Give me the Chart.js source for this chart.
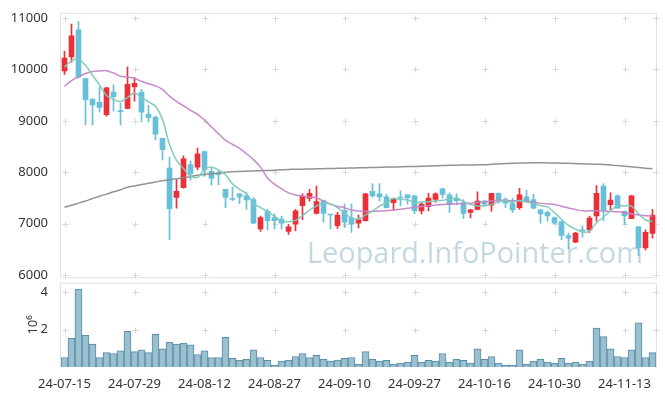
<!DOCTYPE html>
<html lang="ko">
<head>
  <meta charset="UTF-8">
  <title>Candlestick</title>
  <style>
    body { margin: 0; background: #fff; }
    #wrap { position: relative; width: 665px; height: 396px; }
    .box { position: absolute; left: 0; width: 665px; }
    #volBox { top: 270px; height: 126px; }
    #priceBox { top: 0; height: 290px; }
  </style>
  <script src="https://cdn.jsdelivr.net/npm/chart.js"></script>
</head>
<body>
<div id="wrap">
  <div class="box" id="volBox"><canvas id="volChart"></canvas></div>
  <div class="box" id="priceBox"><canvas id="priceChart"></canvas></div>
</div>
<script>
// trading days (YY-MM-DD)
const dates = [
  '24-07-15','24-07-16','24-07-17','24-07-18','24-07-19','24-07-22','24-07-23','24-07-24','24-07-25','24-07-26',
  '24-07-29','24-07-30','24-07-31','24-08-01','24-08-02','24-08-05','24-08-06','24-08-07','24-08-08','24-08-09',
  '24-08-12','24-08-13','24-08-14','24-08-16','24-08-19','24-08-20','24-08-21','24-08-22','24-08-23','24-08-26',
  '24-08-27','24-08-28','24-08-29','24-08-30','24-09-02','24-09-03','24-09-04','24-09-05','24-09-06','24-09-09',
  '24-09-10','24-09-11','24-09-12','24-09-13','24-09-19','24-09-20','24-09-23','24-09-24','24-09-25','24-09-26',
  '24-09-27','24-09-30','24-10-02','24-10-04','24-10-07','24-10-08','24-10-10','24-10-11','24-10-14','24-10-15',
  '24-10-16','24-10-17','24-10-18','24-10-21','24-10-22','24-10-23','24-10-24','24-10-25','24-10-28','24-10-29',
  '24-10-30','24-10-31','24-11-01','24-11-04','24-11-05','24-11-06','24-11-07','24-11-08','24-11-11','24-11-12',
  '24-11-13','24-11-14','24-11-15','24-11-18','24-11-19'
];

const opens = [
  9970,10240,10770,9820,9420,9360,9120,9560,9190,9240,
  9660,9560,9130,9070,8660,8080,7510,7700,8150,8100,
  8400,8020,7990,7670,7480,7580,7540,7470,6900,7240,
  7120,7090,6850,6990,7350,7490,7200,7450,7180,6960,
  7260,7120,7010,7060,7630,7580,7520,7410,7510,7560,
  7540,7250,7330,7470,7680,7560,7500,7410,7220,7280,
  7440,7360,7590,7470,7390,7310,7520,7470,7270,7220,
  7120,7040,6770,6640,6870,6880,7150,7730,7370,7540,
  7240,7100,6940,6530,6810
];
const highs = [
  10350,10880,10930,9820,9430,9650,9650,9700,9340,10050,
  9840,9610,9300,9090,8660,8290,7860,8320,8220,8470,
  8410,8080,8030,7670,7710,7590,7600,7510,7150,7280,
  7190,7150,6990,7280,7580,7670,7730,7460,7180,7220,
  7380,7380,7170,7590,7780,7780,7570,7500,7640,7560,
  7550,7410,7590,7600,7690,7600,7580,7470,7280,7620,
  7460,7590,7600,7510,7500,7690,7650,7570,7270,7250,
  7130,7050,6820,6830,6960,7150,7740,7780,7600,7560,
  7250,7550,6950,6880,7280
];
const lows = [
  9900,10140,9830,8920,8920,9170,9090,9190,8920,9230,
  9380,8980,8980,8630,8240,6690,7300,7690,7840,8050,
  7920,7750,7760,7310,7450,7390,7280,7000,6850,6880,
  6900,6900,6790,6860,7080,7440,7190,7030,6900,6910,
  6930,6830,6920,7050,7510,7440,7300,7260,7350,7380,
  7190,7190,7250,7420,7500,7220,7370,7100,7110,7270,
  7340,7240,7400,7310,7220,7280,7440,7290,7010,7050,
  7000,6690,6510,6630,6740,6830,7050,7060,7260,7300,
  6980,7100,6380,6490,6720
];
const closes = [
  10220,10650,9850,9410,9310,9260,9640,9470,9180,9710,
  9730,9170,9060,8740,8440,7290,7630,8260,7970,8360,
  8050,7880,7960,7510,7470,7520,7460,7010,7120,7060,
  7060,7010,6940,7250,7530,7590,7430,7200,7170,7170,
  7030,6990,7080,7580,7540,7520,7310,7490,7500,7500,
  7250,7380,7500,7580,7570,7370,7450,7200,7270,7440,
  7380,7590,7440,7400,7270,7560,7440,7300,7190,7150,
  7010,6770,6720,6820,6860,7110,7590,7250,7460,7300,
  7150,7540,6530,6830,7170
];
// moving averages
const ma5 = [
  10040,10170,10190,10080,9888,9696,9494,9418,9372,9452,
  9546,9452,9370,9282,9028,8540,8232,8072,7918,7902,
  8054,8104,8044,7952,7774,7668,7584,7394,7316,7234,
  7142,7052,7038,7064,7158,7264,7348,7400,7384,7312,
  7200,7112,7088,7170,7244,7342,7406,7488,7472,7464,
  7410,7424,7426,7442,7456,7480,7494,7434,7372,7346,
  7348,7376,7424,7450,7416,7452,7422,7394,7352,7328,
  7218,7084,6968,6894,6836,6856,7020,7126,7254,7342,
  7350,7340,7196,7072,7046
];
const ma20 = [
  9670,9780,9860,9920,9960,9970,9975,9930,9865,9850,
  9827,9765,9720,9680,9610,9480,9378,9290,9205,9125,
  9015,8880,8750,8620,8540,8465,8360,8245,8100,7890,
  7770,7680,7600,7560,7538,7520,7506,7440,7380,7335,
  7310,7265,7245,7237,7240,7245,7250,7265,7280,7300,
  7320,7335,7350,7365,7375,7380,7385,7390,7398,7410,
  7425,7440,7455,7450,7445,7442,7430,7415,7400,7385,
  7375,7340,7305,7275,7250,7250,7250,7245,7238,7230,
  7215,7190,7170,7155,7150
];
const ma120 = [
  7320,7360,7400,7440,7490,7535,7575,7620,7660,7710,
  7735,7760,7785,7810,7835,7855,7875,7895,7915,7940,
  7955,7970,7985,8000,8010,8015,8020,8025,8030,8035,
  8040,8050,8055,8058,8060,8063,8066,8070,8073,8076,
  8080,8083,8086,8090,8093,8096,8100,8103,8106,8110,
  8113,8116,8120,8125,8130,8135,8138,8140,8142,8145,
  8148,8155,8162,8168,8174,8180,8182,8183,8183,8182,
  8180,8177,8173,8168,8164,8160,8155,8150,8142,8130,
  8118,8105,8092,8078,8068
];
const volumes = [
  510000,1540000,4170000,1690000,1230000,510000,770000,720000,870000,1900000,
  820000,920000,770000,1740000,970000,1330000,1230000,1280000,1180000,670000,
  870000,510000,510000,1590000,460000,360000,410000,920000,510000,360000,
  100000,310000,360000,560000,720000,510000,620000,410000,310000,370000,
  460000,510000,150000,820000,410000,310000,360000,150000,210000,260000,
  620000,260000,360000,310000,720000,260000,410000,360000,210000,970000,
  410000,560000,210000,100000,100000,920000,150000,310000,410000,260000,
  210000,460000,210000,260000,150000,310000,2080000,1620000,970000,560000,
  510000,920000,2360000,510000,770000
];

const priceTicks = [6000, 7000, 8000, 9000, 10000, 11000];
const volTicks = [2000000, 4000000];
const tickEvery = 10;

const UP = 'rgb(234,48,54)';
const DOWN = 'rgb(104,191,217)';
const FONT = { family: "'Noto Sans', sans-serif", size: 13 };
const TEXT = '#333';

const candleColors = opens.map((o, i) => closes[i] >= o ? UP : DOWN);
const xTickIdx = dates.map((d, i) => i).filter(i => i % tickEvery === 0);

// light frame + little "+" marks where grid lines would cross
const gridMarks = {
  id: 'gridMarks',
  beforeDatasetsDraw(chart, args, opts) {
    const { ctx, chartArea: a, scales } = chart;
    const xs = xTickIdx.map(i => scales.x.getPixelForValue(i));
    xs.push(a.right);
    const ys = opts.values.map(v => scales.y.getPixelForValue(v));
    ctx.save();
    ctx.strokeStyle = '#e2e2e2';
    ctx.lineWidth = 1;
    ctx.beginPath();
    ctx.moveTo(a.left - 0.5, a.bottom + (opts.bottom ? 0.5 : 0));
    ctx.lineTo(a.left - 0.5, a.top + 0.5);
    ctx.lineTo(a.right + 0.5, a.top + 0.5);
    ctx.lineTo(a.right + 0.5, a.bottom + 0.5);
    if (opts.bottom) ctx.lineTo(a.left - 0.5, a.bottom + 0.5);
    ctx.stroke();
    ctx.strokeStyle = '#d8d8d8';
    ctx.beginPath();
    xs.forEach(x => {
      x = Math.round(x) + 0.5;
      ys.forEach(y => {
        y = Math.round(y) + 0.5;
        ctx.moveTo(x - 3, y); ctx.lineTo(x + 3, y);
        ctx.moveTo(x, y - 3); ctx.lineTo(x, y + 3);
      });
    });
    ctx.stroke();
    ctx.restore();
  }
};

const watermark = {
  id: 'watermark',
  beforeDatasetsDraw(chart) {
    const { ctx } = chart;
    const text = 'Leopard.InfoPointer.com';
    ctx.save();
    ctx.font = "32px 'Open Sans', sans-serif";
    const size = 32 * 336 / ctx.measureText(text).width;
    ctx.font = size.toFixed(1) + "px 'Open Sans', sans-serif";
    ctx.fillStyle = 'rgba(160,192,212,0.62)';
    ctx.textAlign = 'right';
    ctx.textBaseline = 'alphabetic';
    ctx.fillText(text, 643, 263);
    ctx.restore();
  }
};

new Chart(document.getElementById('priceChart'), {
  data: {
    labels: dates,
    datasets: [
      { type: 'line', label: 'MA5', data: ma5, borderColor: 'rgba(125,202,185,0.95)', borderWidth: 1.5, pointRadius: 0, tension: 0.3, order: 0 },
      { type: 'line', label: 'MA20', data: ma20, borderColor: 'rgba(198,132,198,0.95)', borderWidth: 1.5, pointRadius: 0, tension: 0.3, order: 0 },
      { type: 'line', label: 'MA120', data: ma120, borderColor: 'rgba(135,135,135,0.9)', borderWidth: 1.5, pointRadius: 0, tension: 0.3, order: 0 },
      { type: 'bar', label: 'wick', data: lows.map((l, i) => [l, highs[i]]), backgroundColor: candleColors, barThickness: 1, grouped: false, order: 2 },
      { type: 'bar', label: 'body', data: opens.map((o, i) => [o, closes[i]]), backgroundColor: candleColors, barThickness: 5, minBarLength: 1, grouped: false, order: 1 }
    ]
  },
  options: {
    responsive: true,
    maintainAspectRatio: false,
    animation: false,
    layout: { padding: { left: 0, right: 9, top: 10, bottom: 12 } },
    plugins: { legend: { display: false }, tooltip: { enabled: false }, gridMarks: { values: priceTicks, bottom: true } },
    scales: {
      x: { display: false, offset: true, grid: { display: false } },
      y: {
        min: 5960, max: 11100,
        afterBuildTicks: s => { s.ticks = priceTicks.map(v => ({ value: v })); },
        afterFit: s => { s.width = 61; },
        grid: { display: false },
        border: { display: false },
        ticks: { padding: 5, font: FONT, color: TEXT, callback: v => String(v) }
      }
    }
  },
  plugins: [gridMarks, watermark]
});

new Chart(document.getElementById('volChart'), {
  type: 'bar',
  data: {
    labels: dates,
    datasets: [{
      label: 'Volume', data: volumes,
      backgroundColor: 'rgba(150,190,207,0.95)', borderColor: 'rgb(92,142,166)', borderWidth: 1,
      barPercentage: 1, categoryPercentage: 1
    }]
  },
  options: {
    responsive: true,
    maintainAspectRatio: false,
    animation: false,
    layout: { padding: { left: 0, right: 9, top: 8, bottom: 0 } },
    plugins: { legend: { display: false }, tooltip: { enabled: false }, gridMarks: { values: volTicks, bottom: false } },
    scales: {
      x: {
        grid: { display: false },
        border: { display: false },
        afterFit: s => { s.height = 29; },
        ticks: {
          autoSkip: false, maxRotation: 0, padding: 1, font: FONT, color: TEXT,
          callback: (v, i) => i % tickEvery === 0 ? dates[i] : null
        }
      },
      y: {
        min: 0, max: 4500000,
        afterBuildTicks: s => { s.ticks = volTicks.map(v => ({ value: v })); },
        afterFit: s => { s.width = 61; },
        grid: { display: false },
        border: { display: false },
        ticks: { padding: 5, font: FONT, color: TEXT, callback: v => String(v / 1000000) },
        title: { display: true, text: '10⁶', font: FONT, color: TEXT, padding: { top: 25, bottom: 0 } }
      }
    }
  },
  plugins: [gridMarks]
});
</script>
</body>
</html>
